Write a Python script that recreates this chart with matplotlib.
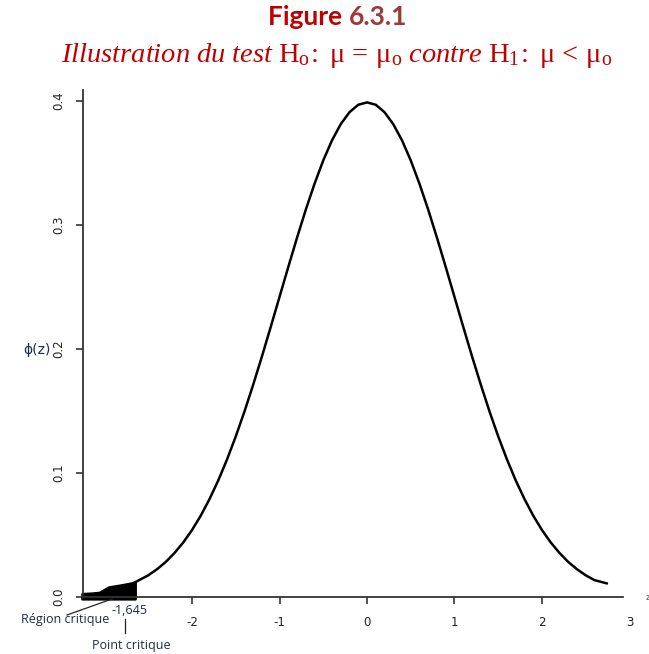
import matplotlib
matplotlib.use("Agg")
import matplotlib.pyplot as plt

# courbe (densite normale centree reduite)
z_vals = [-2.65, -2.5, -2.4, -2.3, -2.2, -2.1, -2.0, -1.9, -1.8, -1.7, -1.6, -1.5,
          -1.4, -1.3, -1.2, -1.1, -1.0, -0.9, -0.8, -0.7, -0.6, -0.5, -0.4, -0.3,
          -0.2, -0.1, 0.0, 0.1, 0.2, 0.3, 0.4, 0.5, 0.6, 0.7, 0.8, 0.9, 1.0, 1.1,
          1.2, 1.3, 1.4, 1.5, 1.6, 1.7, 1.8, 1.9, 2.0, 2.1, 2.2, 2.3, 2.4, 2.5,
          2.6, 2.74]
phi_vals = [0.0119, 0.0175, 0.0224, 0.0283, 0.0355, 0.0440, 0.0540, 0.0656, 0.0790,
            0.0940, 0.1109, 0.1295, 0.1497, 0.1714, 0.1942, 0.2179, 0.2420, 0.2661,
            0.2897, 0.3123, 0.3332, 0.3521, 0.3683, 0.3814, 0.3910, 0.3970, 0.3989,
            0.3970, 0.3910, 0.3814, 0.3683, 0.3521, 0.3332, 0.3123, 0.2897, 0.2661,
            0.2420, 0.2179, 0.1942, 0.1714, 0.1497, 0.1295, 0.1109, 0.0940, 0.0790,
            0.0656, 0.0540, 0.0440, 0.0355, 0.0283, 0.0224, 0.0175, 0.0136, 0.011]

# region critique (bloc noir a gauche)
tail_z = [-3.257, -3.15, -3.06, -3.0, -2.95, -2.82, -2.72, -2.651]
tail_top = [0.0026, 0.003, 0.0036, 0.006, 0.008, 0.0095, 0.0108, 0.0119]

x_ticks = [-2, -1, 0, 1, 2]
x_labels = ["-2", "-1", "0", "1", "2"]
y_ticks = [0.0, 0.1, 0.2, 0.3, 0.4]
y_labels = ["0.0", "0.1", "0.2", "0.3", "0.4"]

W, H = 649, 654
RED = "#C00000"

plt.rcParams["mathtext.fontset"] = "custom"
plt.rcParams["mathtext.rm"] = "Liberation Serif"
plt.rcParams["mathtext.it"] = "Liberation Serif:italic"


def px(x, y):
    # pixel -> fraction de figure
    return x / W, 1 - y / H


fig = plt.figure(figsize=(W / 100, H / 100), dpi=100)
x0, y0 = px(83, 597)
x1, y1 = px(623, 90)
ax = fig.add_axes([x0, y0, x1 - x0, y1 - y0])
ax.set_xlim(-3.246, 2.926)
ax.set_ylim(0, 0.4089)

ax.plot(z_vals, phi_vals, color="black", lw=1.8, solid_joinstyle="round")
ax.fill_between(tail_z, -0.0014, tail_top, color="black", lw=2.0,
                edgecolor="black", joinstyle="round", clip_on=False)

for s in ["top", "right"]:
    ax.spines[s].set_visible(False)
for s in ["left", "bottom"]:
    ax.spines[s].set_color("#333333")
    ax.spines[s].set_linewidth(1.3)

ax.set_xticks(x_ticks)
ax.set_xticklabels(x_labels)
ax.set_yticks(y_ticks)
ax.set_yticklabels(y_labels, rotation=90, va="center")
ax.tick_params(axis="both", length=5, width=1.2, color="#333333", labelsize=8.5,
               labelcolor="#222222")
ax.tick_params(axis="x", pad=9)
ax.tick_params(axis="y", pad=8)

# "3" sans tiret, au-dela de la fin de l'axe
ax.annotate("3", xy=(3.0, 0), xycoords=ax.get_xaxis_transform(), xytext=(0, -18),
            textcoords="offset points", ha="center", va="center", fontsize=8.5,
            color="#222222", annotation_clip=False)

fig.text(*px(37, 350), "ϕ(z)", ha="center", va="center", fontsize=10, color="#1f2a44")
fig.text(*px(646, 598), "z", ha="left", va="center", fontsize=6, color="#555555")

# annotations
lab_font = dict(family="Open Sans", fontsize=9, color="#1f2a44")
fig.text(*px(130, 611), "-1,645", ha="center", va="center", **lab_font)
fig.text(*px(65, 620), "Région critique", ha="center", va="center", **lab_font)
fig.text(*px(131, 645), "Point critique", ha="center", va="center", **lab_font)
fig.add_artist(plt.Line2D([67 / W, 112 / W], [1 - 615 / H, 1 - 599 / H], color="#222222", lw=0.9))
fig.add_artist(plt.Line2D([125 / W, 125 / W], [1 - 619 / H, 1 - 633 / H], color="#222222", lw=0.9))

# titre
title_font = dict(fontsize=19, family="Lato", weight="bold")
t1 = fig.text(*px(268, 25), "Figure ", ha="left", va="baseline", color=RED, **title_font)
ax.annotate("6.3.1", xy=(1, 0), xycoords=t1, xytext=(0, 0), textcoords="offset points",
            ha="left", va="bottom", color="#9B3A36", annotation_clip=False, **title_font)

subtitle = (r"$\mathit{Illustration\ du\ test}\ \mathrm{H_o\!:\ \mu\,=\,\mu_o}\ "
            r"\mathit{contre}\ \mathrm{H_1\!:\ \mu\,<\,\mu_o}$")
fig.text(*px(337, 62), subtitle, ha="center", va="baseline", fontsize=20.5, color=RED)

fig.savefig("out.png", dpi=100)
